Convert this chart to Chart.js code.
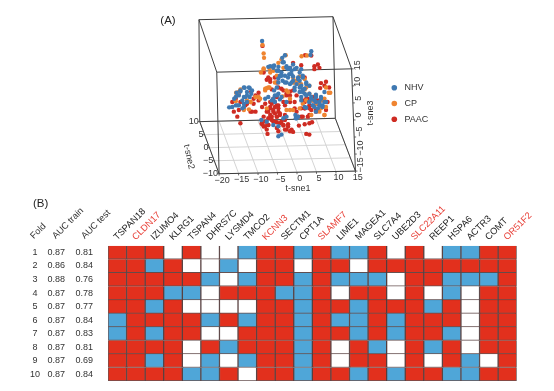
<!DOCTYPE html>
<html>
<head>
<meta charset="utf-8">
<script src="https://cdn.jsdelivr.net/npm/chart.js@4"></script>
<style>
html,body{margin:0;padding:0;background:#fff;}
#wrap{position:relative;width:554px;height:391px;overflow:hidden;}
canvas{position:absolute;left:0;top:0;filter:blur(0.35px);}
</style>
</head>
<body>
<div id="wrap"><canvas id="scatter" width="554" height="391"></canvas><canvas id="heat" width="554" height="391"></canvas></div>
<script>
// ---------- Panel A: points read in on-screen projected t-sne1 / t-sne3 units
const nhvX=[-9.7,-3.8,-4.5,3.0,2.8,-7.6,-6.6,-5.5,-4.4,-3.4,-1.7,-0.8,0.4,-5.9,-4.7,-3.8,-2.7,-1.7,-0.4,0.8,-5.5,-4.4,-3.4,-2.1,-0.8,0.4,1.7,0.8,2.5,0,1.3,-5.9,-6.6,1.7,3.0,4.2,5.5,6.4,3.8,2.5,5.1,5.9,6.8,4.7,1.7,3.8,-8.1,-7.2,-5.9,-6.4,-5.1,-8.9,-14.2,-12.9,-15.3,-13.6,-12.5,-16.3,-14,-14.8,-13.6,-16.9,-15.7,-18.2,-16.5,-14.4,-12.9,-9.9,-8.5,-1.1,-6.8,-5.5,-4.7,-5.5,-0.8,-3.4,-4.2,-3,-6.8,-2.1,-5.1,0,1.3,-1.3,3.4,5.5,4.2,0.4,
 -8.1,-6.8,-4.1,-5.5,-4.7,-3,-1.7,-0.4,0.8,1.7,0,-1.3,0.8,2.5,4.2,3,5.5,6.4,4.2,0.4,-6.4,-5.5,-4.7,-6.8,-3.4,2.5,3.4,5.1,5.9,1.3,-0.4,-1,-14.4,-13.1,-15.3,-12.3,-16.5,-15.7,-14.4,-13.6,-17.4,-16.1,-14.4,-14.8,-2.5,-1.3,-3.4,0,-2.1,-3.8,-2.5,-5.5];
const nhvY=[22.8,18.5,17.7,19.7,18.6,15.2,15.4,15.0,16.4,14.7,15.7,14.7,14.3,13.8,13.3,12.3,12.8,12.1,11.8,12.3,11.5,10.8,10.3,10.3,9.8,9.3,10.3,8.2,9.3,7.4,6.9,8.8,7.9,6.4,5.9,6.6,5.9,7.4,4.9,4.4,4.4,3.4,4.4,2.5,2.7,2.9,5.9,4.9,6.4,4.4,5.2,5.4,8.7,8.6,7.9,7.4,6.9,7.2,5.9,4.9,4.4,5.4,3.4,2.8,3.4,2.9,5.9,-1.0,-1.5,0.5,-2.5,-2.9,-5.4,-5.9,-0.5,0,-0.5,14.3,14.7,13.8,12.3,10.8,8.4,8.8,3.4,3.4,1.5,5.9,
 15.0,15.2,16.4,13.8,12.3,11.8,10.8,11.3,11.8,9.8,8.8,7.9,7.4,6.9,5.9,5.4,5.4,4.4,4.4,4.9,6.4,6.9,5.9,5.4,4.4,4.4,3.4,3.4,2.9,2.9,0,-0.5,8.8,8.8,7.6,7.9,5.9,6.4,5.9,6.4,2.9,3.4,3.9,2.5,14.7,14.3,15.2,13.3,12.8,10.3,9.8,10.3];
const cpX=[-9.6,-9.3,-9.2,-3.6,-4.7,0.5,1.9,-9.3,-10,-7.8,-6.8,-4.2,0,1.3,-0.8,0.4,1.7,-8.5,-8.9,-7.8,-6.4,-3.4,-4.4,-2.5,1.3,2.5,7.5,6.8,7.9,5.5,4.2,5.5,6.8,-15.3,-16.4,-13.1,-14.4,-16.5,-10.6,-13.6,-11.4,-3.4,-1.7,-12.7,-2.5,-8.5,1.7,3.4,5.1,6.4,0.8,3,-5.9,-1.7,
 -9.3,-8.9,-8.1,-1.3,0,-0.8,-1.7,4.2,6.4,5.1,6.4,-10.2,-3,0,-14.4,-15.7,-12.7,-5.5,-7.6,2.5];
const cpY=[21.6,19.0,17.7,18.5,17.2,18.2,18.4,14.3,13.3,14.5,13.8,14.7,12.1,11.3,10.8,9.8,8.8,8.6,7.9,8.8,10.3,7.9,6.1,5.4,8.2,6.9,7.2,8.8,7.2,4.9,3.9,2.5,2.9,8.2,7.2,2.2,2.0,4.6,5.9,4.9,5.9,2.0,2.0,4.4,2.0,2.5,4.9,4.9,1.5,0.5,3.9,0.5,12.3,10.3,
 14.5,8.4,8.8,10.3,9.8,10.8,11.8,6.4,5.4,2.5,0.5,5.4,7.4,2.5,2.5,7.4,4.4,16.2,13.3,9.3];
const paacX=[-9.6,1.4,3,4.7,3.8,3.8,5.1,0.4,-1.7,-9.3,-8.5,-7.6,-2.5,-6.4,5.5,6.8,6.4,5.3,7.6,1.3,-5.5,-7.2,-2.5,-1.7,-3.4,-10.6,-11.4,-12.5,-10.6,-11.9,-9.7,-5.9,-6.8,-7.6,-8.9,-5.5,-4.2,-6.4,-7.6,-8.5,-6.8,-5.5,-7.2,-5.9,-8.1,-5.1,-3.8,-9.3,-6.8,-8.1,-9.7,-8.9,-8.5,-8.3,-5.5,-4.2,-3,-2.1,-3.4,-1.7,-5.9,-4.7,-3.8,2.5,1.7,-0.2,1.3,3.2,-0.4,0.8,2.1,-0.8,0.4,1.3,2.5,3.8,0.8,2.1,3.4,5.9,7.2,4.7,4.2,3,6.8,-16.5,-15.7,-17.4,-16.1,-15.3,-12.7,-11.4,-15.3,-14,-15.7,-13.6,-5.9,-4.2,-0.8,-1.3,-2.5,-3.8,
 -6.4,-7.2,-5.9,-7.6,-5.5,-6.8,-8.1,-6.4,-5.1,-7.6,-5.9,-8.9,-9.8,-7.2,-6.4,-8.1,-9.3,-5.1,-4.2,-3,-3.8,-2.5,-5.9,2.5,1.3,1.7,3.4,4.7,1.3,4.2,2.5,0.4,2.5,-7.6,-8.1,-4.7,-2.5,-3.4,-1.3,-11.9,-12.3,-17];
const paacY=[21.3,18.5,18.4,15.7,15.2,14.3,14.7,15.5,16.2,13.3,11.1,10.5,14.7,11.8,10.1,10.5,9.3,8.6,8.8,11.8,8.8,8.2,7.6,7.9,6.4,7.2,6.4,7.6,4.9,3.9,2.9,5.9,5.4,4.4,3.9,3.4,4.4,2.9,2.5,1.5,1.5,1.5,0,0,-0.5,0.5,0.5,0,-1.5,-2.5,-2.3,-2.9,-3.9,-5.2,-4.4,-2.7,-2.3,-3.9,-3.9,-4.6,-1.7,-1.5,-1,-5.4,-5.2,-2.7,-2.3,-1.7,0,0,0,1.5,2.5,2.5,3.4,4.9,4.9,5.4,5.9,4.9,4.4,4.9,1.5,2,2,5.4,6.9,4.4,0,-2,1.5,1.5,4.4,3.4,2,3.9,10.3,7.9,6.4,4.4,4.4,3.4,
 4.4,3.9,3.4,2.9,2.5,2,1.5,1,1,0.5,0,-1.5,-2,-1,-1.5,-2.5,-3,-2,-2.5,-3,-3.9,-4.4,-3.4,2.5,4.4,5.4,4.9,3.9,2.5,2,-2,0,0.5,11.3,11.8,8.4,6.4,6.9,2.5,5.4,1.5,1.5];
const seriesNames=["NHV","CP","PAAC"];
const seriesColors=["#3F79B2","#EF8430","#CE2B22"];
const tsne1Ticks=[-20,-15,-10,-5,0,5,10,15];
const tsne2Ticks=[10,5,0,-5,-10];
const tsne3Ticks=[15,10,5,0,-5,-10,-15];
// box corners in the same projected units
const backTopLeft=[-26.0,29.2], backTopRight=[8.6,30.1], frontTopLeft=[-21.4,13.4], frontTopRight=[13.4,14.4];
const backFloorLeft=[-25.8,-1.5], backFloorRight=[9.2,-0.5], frontFloorLeft=[-20.8,-17.2], frontFloorRight=[14.4,-16.4];

const mix=(a,b,t)=>[a[0]+(b[0]-a[0])*t,a[1]+(b[1]-a[1])*t];
const pts=(xs,ys)=>xs.map((x,i)=>({x,y:ys[i]}));
const edge=(...c)=>c.map(p=>({x:p[0],y:p[1]}));
const fmt=v=>String(v).replace('-','\u2212');
const frameLines=[
 edge(backTopLeft,backTopRight,frontTopRight,frontTopLeft,backTopLeft),
 edge(backTopLeft,backFloorLeft),edge(backTopRight,backFloorRight),
 edge(frontTopLeft,frontFloorLeft),edge(frontTopRight,frontFloorRight),
 edge(backFloorLeft,backFloorRight,frontFloorRight,frontFloorLeft,backFloorLeft)];
const gridLines=[];
tsne1Ticks.forEach(v=>{const t=(v+20)/35;gridLines.push(edge(mix(frontFloorLeft,frontFloorRight,t),mix(backFloorLeft,backFloorRight,t)));});
tsne2Ticks.forEach(v=>{const t=(10-v)/20;gridLines.push(edge(mix(backFloorLeft,frontFloorLeft,t),mix(backFloorRight,frontFloorRight,t)));});

const lineDs=(d,c,w,order)=>({type:'scatter',data:d,showLine:true,borderColor:c,borderWidth:w,pointRadius:0,order,fill:false});
const textColor='#333333';
const panelA={id:'panelA',afterDraw(ch){
 const c=ch.ctx,X=ch.scales.x,Y=ch.scales.y;
 const px=p=>[X.getPixelForValue(p[0]),Y.getPixelForValue(p[1])];
 const put=(s,p,o={})=>{c.save();c.translate(p[0],p[1]);c.rotate((o.rot||0)*Math.PI/180);c.textAlign=o.align||'center';c.textBaseline='middle';c.fillStyle=o.color||textColor;c.font=o.font||'9px "Liberation Sans"';c.fillText(s,0,0);c.restore();};
 c.strokeStyle='#444';c.lineWidth=.8;
 const tick=(p,dx,dy)=>{c.beginPath();c.moveTo(p[0],p[1]);c.lineTo(p[0]+dx,p[1]+dy);c.stroke();};
 tsne1Ticks.forEach(v=>{const p=px(mix(frontFloorLeft,frontFloorRight,(v+20)/35));tick(p,0,2);put(fmt(v),[X.getPixelForValue(v),p[1]+6.5]);});
 tsne2Ticks.forEach(v=>{const p=px(mix(backFloorLeft,frontFloorLeft,(10-v)/20));tick(p,-2,0);put(fmt(v),[p[0]-1,p[1]-.5],{align:'right'});});
 tsne3Ticks.forEach(v=>{const p=px(mix(frontTopRight,frontFloorRight,(15-v)/30));tick(p,2,0);put(fmt(v),[p[0]+5.5,Y.getPixelForValue(v)-1.7],{rot:-90});});
 put('t-sne1',px([-0.4,-21.7]));
 put('t-sne2',px([-28.6,-12.1]),{rot:78});
 put('t-sne3',[371,113],{rot:-90});
 put('(A)',[168,21],{font:'11.5px "Liberation Sans"',color:'#222'});
 seriesNames.forEach((n,i)=>{const y=87.7+i*15.8;c.beginPath();c.arc(394.3,y,2.8,0,7);c.fillStyle=seriesColors[i];c.fill();put(n,[404.5,y],{align:'left'});});
}};
const uPerPx=1/3.93, wPerPx=1/3.39;
new Chart(document.getElementById('scatter'),{type:'scatter',plugins:[panelA],data:{datasets:[
 ...gridLines.map(d=>lineDs(d,'#CFCFCF',.9,9)),
 ...frameLines.map(d=>lineDs(d,'#3c3c3c',1,8)),
 {label:seriesNames[2],data:pts(paacX,paacY),backgroundColor:seriesColors[2],borderWidth:0,pointRadius:2.2,order:3},
 {label:seriesNames[1],data:pts(cpX,cpY),backgroundColor:seriesColors[1],borderWidth:0,pointRadius:2.2,order:2},
 {label:seriesNames[0],data:pts(nhvX,nhvY),backgroundColor:seriesColors[0],borderWidth:0,pointRadius:2.2,order:1}
]},options:{responsive:false,animation:false,layout:{padding:0},plugins:{legend:{display:false},tooltip:{enabled:false}},
 scales:{x:{type:'linear',display:false,min:-300*uPerPx,max:254*uPerPx},y:{type:'linear',display:false,min:-276*wPerPx,max:115*wPerPx}}}});

// ---------- Panel B
const genes=["TSPAN18","CLDN17","IZUMO4","KLRG1","TSPAN4","DHRS7C","LYSMD4","TMCO2","KCNN3","SECTM1","CPT1A","SLAMF7","LIME1","MAGEA1","SLC7A4","UBE2D3","SLC22A11","REEP1","HSPA6","ACTR3","COMT","OR51F2"];
const redGenes=["CLDN17","KCNN3","SLAMF7","SLC22A11","OR51F2"];
const folds=[1,2,3,4,5,6,7,8,9,10];
const aucTrain=["0.87","0.86","0.88","0.87","0.87","0.87","0.87","0.87","0.87","0.87"];
const aucTest=["0.81","0.84","0.76","0.78","0.77","0.84","0.83","0.81","0.69","0.84"];
// 1 = red, -1 = blue, 0 = white
const fold1=[1,1,1,0,1,0,0,-1,1,1,-1,1,-1,-1,1,0,1,0,-1,-1,1,1];
const fold2=[1,1,-1,1,0,0,-1,0,1,1,0,1,1,0,1,1,1,1,1,1,1,1];
const fold3=[1,1,1,1,1,-1,0,-1,1,1,-1,1,-1,-1,-1,0,1,1,-1,-1,-1,1];
const fold4=[1,1,1,-1,-1,0,1,1,1,-1,-1,1,0,1,1,0,1,0,-1,0,1,1];
const fold5=[1,1,-1,1,0,0,0,0,1,1,-1,1,1,-1,1,1,1,-1,1,0,1,1];
const fold6=[-1,1,1,1,1,-1,1,-1,1,1,-1,1,-1,-1,1,-1,1,1,1,0,1,1];
const fold7=[-1,1,-1,1,1,0,0,1,1,1,-1,1,1,-1,1,-1,1,1,-1,0,1,1];
const fold8=[1,1,1,1,0,1,-1,1,1,1,-1,1,0,1,-1,0,1,-1,1,0,1,1];
const fold9=[1,1,-1,1,0,-1,0,-1,1,1,-1,1,0,1,1,0,1,0,1,-1,0,1];
const fold10=[1,1,1,1,-1,-1,1,0,1,1,-1,1,1,-1,1,-1,1,1,-1,-1,1,1];
const foldRows=[fold1,fold2,fold3,fold4,fold5,fold6,fold7,fold8,fold9,fold10];
const cellColor=v=>v===1?'#E2301D':v===-1?'#4FA6D8':'#FFFFFF';

const panelB={id:'panelB',afterDraw(ch){
 const c=ch.ctx,Y=ch.scales.y;
 const put=(s,x,y,o={})=>{c.save();c.translate(x,y);c.rotate((o.rot||0)*Math.PI/180);c.textAlign=o.align||'center';c.textBaseline='middle';c.fillStyle=o.color||textColor;c.font=o.font||'9px "Liberation Sans"';c.fillText(s,0,0);c.restore();};
 folds.forEach((f,i)=>{const y=Y.getPixelForValue(i+.5);put(String(f),35,y);put(aucTrain[i],56.3,y);put(aucTest[i],84.3,y);});
 [['Fold',32],['AUC train',54],['AUC test',83]].forEach(h=>put(h[0],h[1],237.5,{rot:-45,align:'left',font:'9.2px "Liberation Sans"'}));
 put('(B)',40.7,204,{font:'11.5px "Liberation Sans"',color:'#222'});
}};
new Chart(document.getElementById('heat'),{type:'bar',plugins:[panelB],data:{labels:genes,datasets:foldRows.map((row,i)=>({label:'Fold '+folds[i],data:row.map(()=>1),backgroundColor:row.map(cellColor),borderColor:'rgba(45,15,15,.72)',borderWidth:1,barPercentage:1,categoryPercentage:1}))},
 options:{responsive:false,animation:false,layout:{padding:{left:108,right:37.3,top:0,bottom:10}},plugins:{legend:{display:false},tooltip:{enabled:false}},
 scales:{x:{position:'top',stacked:true,grid:{display:false},border:{display:false},
   afterFit(s){s.height=245.7;s.paddingLeft=0;s.paddingRight=0;},
   ticks:{autoSkip:false,minRotation:45,maxRotation:45,padding:-5,labelOffset:6,font:{family:'"Liberation Sans"',size:9.3},color:ctx=>redGenes.includes(genes[ctx.index])?'#E8423A':'#222'}},
  y:{stacked:true,display:false,reverse:true,min:0,max:10}}}});
</script>
</body>
</html>
